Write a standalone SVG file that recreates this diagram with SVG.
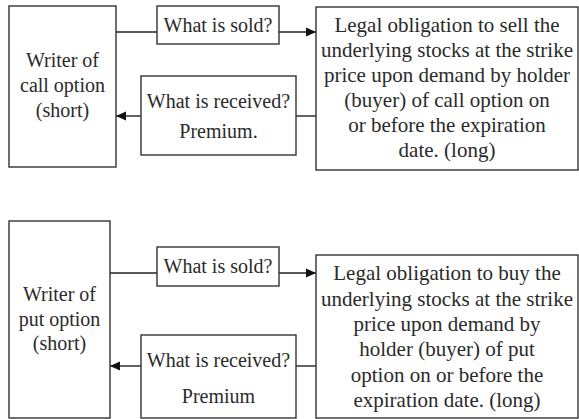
<svg xmlns="http://www.w3.org/2000/svg" width="579" height="419" viewBox="0 0 579 419">
<style>
rect{fill:#fff;stroke:#333;stroke-width:1.4}
text{font-family:"Liberation Serif","Times New Roman",serif;font-size:20px;fill:#2a2a2a;text-anchor:middle}
.big text{font-size:21px}
#connectors line{stroke:#222;stroke-width:1.4}
</style>
<defs>
<marker id="ah" viewBox="0 0 10 10" refX="10" refY="5" markerWidth="10" markerHeight="10" markerUnits="userSpaceOnUse" orient="auto">
<path d="M0,0.5 L10,5 L0,9.5 Z" fill="#111"/>
</marker>
</defs>
<g id="connectors">
<line x1="116" y1="32" x2="157" y2="32"/>
<line x1="279" y1="32" x2="316" y2="32" marker-end="url(#ah)"/>
<line x1="296" y1="116" x2="316" y2="116"/>
<line x1="141" y1="116" x2="116" y2="116" marker-end="url(#ah)"/>
<line x1="110" y1="273" x2="157" y2="273"/>
<line x1="279" y1="273" x2="316" y2="273" marker-end="url(#ah)"/>
<line x1="296" y1="366" x2="316" y2="366"/>
<line x1="141" y1="366" x2="110" y2="366" marker-end="url(#ah)"/>
</g>
<g id="writer-call">
<rect x="9" y="6" width="107" height="161"/>
<text x="62.5" y="67">Writer of</text>
<text x="62.5" y="92">call option</text>
<text x="62.5" y="117">(short)</text>
</g>
<g id="sold-call">
<rect x="157" y="6" width="122" height="38"/>
<text x="218" y="32">What is sold?</text>
</g>
<g id="received-call">
<rect x="141" y="76" width="155" height="79"/>
<text x="218.5" y="108">What is received?</text>
<text x="218.5" y="138">Premium.</text>
</g>
<g id="obligation-call" class="big">
<rect x="316" y="7" width="262" height="163"/>
<text x="447" y="32">Legal obligation to sell the</text>
<text x="447" y="57">underlying stocks at the strike</text>
<text x="447" y="82">price upon demand by holder</text>
<text x="447" y="107">(buyer) of call option on</text>
<text x="447" y="132">or before the expiration</text>
<text x="447" y="157">date. (long)</text>
</g>
<g id="writer-put">
<rect x="9" y="221" width="101" height="197"/>
<text x="59.5" y="301">Writer of</text>
<text x="59.5" y="326">put option</text>
<text x="59.5" y="350">(short)</text>
</g>
<g id="sold-put">
<rect x="157" y="247" width="122" height="39"/>
<text x="218" y="273">What is sold?</text>
</g>
<g id="received-put">
<rect x="141" y="335" width="155" height="83"/>
<text x="218.5" y="367">What is received?</text>
<text x="218.5" y="403">Premium</text>
</g>
<g id="obligation-put" class="big">
<rect x="316" y="255" width="262" height="163"/>
<text x="447" y="280">Legal obligation to buy the</text>
<text x="447" y="305.5">underlying stocks at the strike</text>
<text x="447" y="331">price upon demand by</text>
<text x="447" y="356">holder (buyer) of put</text>
<text x="447" y="381.5">option on or before the</text>
<text x="447" y="407">expiration date. (long)</text>
</g>
</svg>
